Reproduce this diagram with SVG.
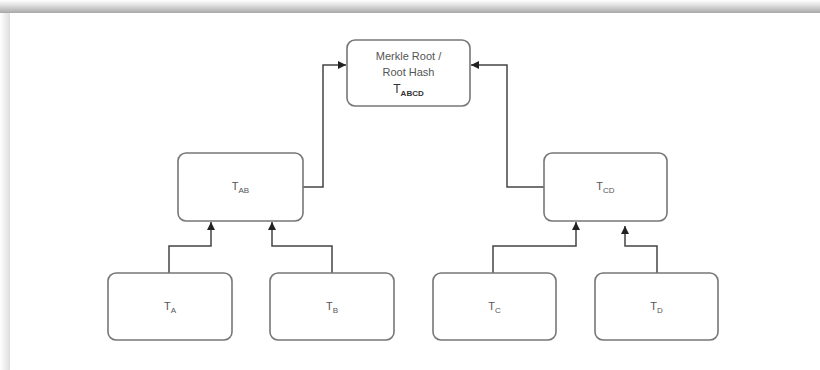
<svg xmlns="http://www.w3.org/2000/svg" width="820" height="370" viewBox="0 0 820 370">
<defs>
<linearGradient id="gTop" x1="0" y1="0" x2="0" y2="1">
<stop offset="0" stop-color="#ffffff"/>
<stop offset="0.4" stop-color="#e0e0e0"/>
<stop offset="1" stop-color="#a8a8a8"/>
</linearGradient>
<linearGradient id="gLeft" x1="0" y1="0" x2="1" y2="0">
<stop offset="0" stop-color="#ffffff"/>
<stop offset="1" stop-color="#dedede"/>
</linearGradient>
<marker id="arr" viewBox="0 0 10 10" refX="10" refY="5" markerWidth="8" markerHeight="8" markerUnits="userSpaceOnUse" orient="auto">
<path d="M0,0 L10,5 L0,10 Z" fill="#222"/>
</marker>
<style>
.box{fill:#fff;stroke:#777;stroke-width:1.6}
.lbl{font-family:"Liberation Sans",Arial,sans-serif;font-size:11px;fill:#555;text-anchor:middle}
.sub{font-size:8px}
.con{fill:none;stroke:#444;stroke-width:1.5}
</style>
</defs>
<rect x="0" y="0" width="820" height="370" fill="#fff"/>
<rect x="0" y="0" width="10" height="370" fill="url(#gLeft)"/>
<rect x="0" y="0" width="820" height="13" fill="url(#gTop)"/>

<g id="connectors">
<polyline class="con" points="169,273 169,246 211,246 211,222" marker-end="url(#arr)"/>
<polyline class="con" points="332,273 332,246 272,246 272,222" marker-end="url(#arr)"/>
<polyline class="con" points="303,187 323,187 323,65 346,65" marker-end="url(#arr)"/>
<polyline class="con" points="544,187 507,187 507,65 471,65" marker-end="url(#arr)"/>
<polyline class="con" points="493,273 493,246 576,246 576,222" marker-end="url(#arr)"/>
<polyline class="con" points="657,273 657,246 625,246 625,226" marker-end="url(#arr)"/>
</g>

<g id="root">
<rect class="box" x="347" y="40" width="123" height="66" rx="8"/>
<text class="lbl" x="408.5" y="60">Merkle Root /</text>
<text class="lbl" x="408.5" y="76">Root Hash</text>
<text class="lbl" x="408.5" y="93" style="font-size:12px;fill:#333">T<tspan class="sub" dy="3" style="font-weight:bold">ABCD</tspan></text>
</g>

<g id="tab">
<rect class="box" x="178" y="153" width="125" height="68" rx="8"/>
<text class="lbl" x="240.5" y="190">T<tspan class="sub" dy="3">AB</tspan></text>
</g>

<g id="tcd">
<rect class="box" x="544" y="153" width="123" height="68" rx="8"/>
<text class="lbl" x="605.5" y="190">T<tspan class="sub" dy="3">CD</tspan></text>
</g>

<g id="ta">
<rect class="box" x="108" y="273" width="124" height="67" rx="8"/>
<text class="lbl" x="170" y="310">T<tspan class="sub" dy="3">A</tspan></text>
</g>

<g id="tb">
<rect class="box" x="270" y="273" width="124" height="67" rx="8"/>
<text class="lbl" x="332" y="310">T<tspan class="sub" dy="3">B</tspan></text>
</g>

<g id="tc">
<rect class="box" x="433" y="273" width="123" height="67" rx="8"/>
<text class="lbl" x="494.5" y="310">T<tspan class="sub" dy="3">C</tspan></text>
</g>

<g id="td">
<rect class="box" x="595" y="273" width="123" height="67" rx="8"/>
<text class="lbl" x="656.5" y="310">T<tspan class="sub" dy="3">D</tspan></text>
</g>
</svg>
